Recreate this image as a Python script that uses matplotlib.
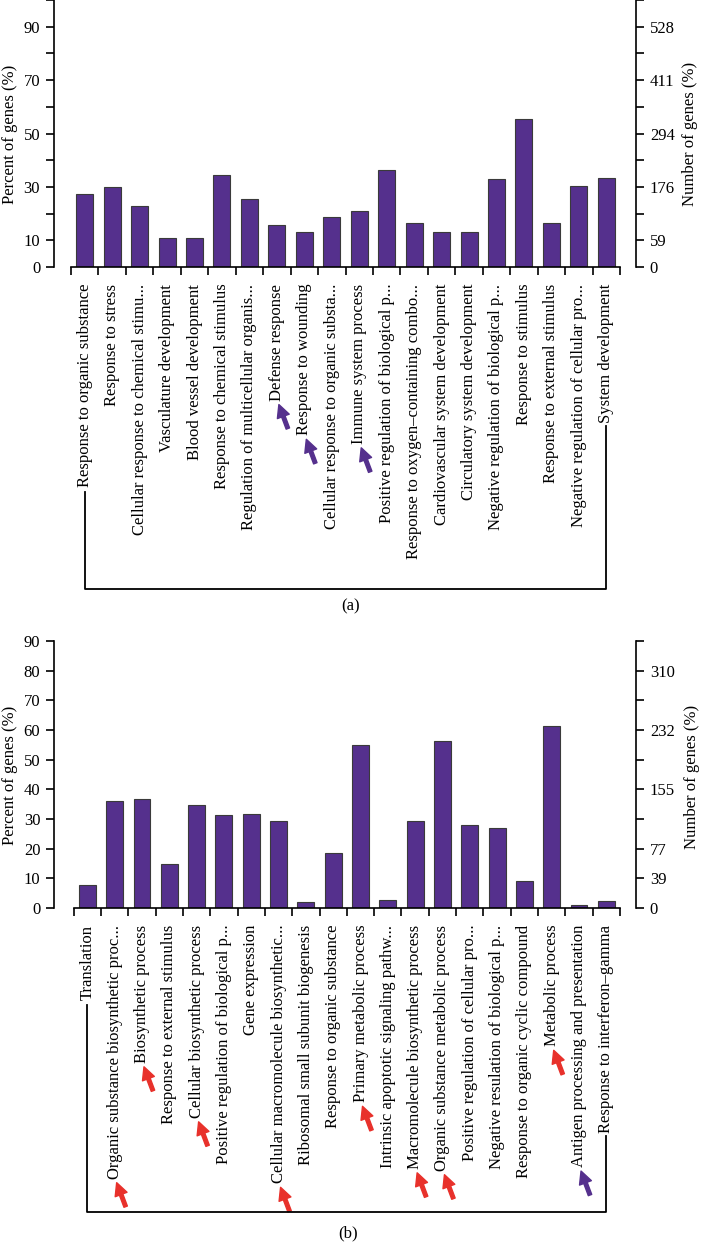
import numpy as np
import matplotlib
matplotlib.use("Agg")
import matplotlib.pyplot as plt
from matplotlib.lines import Line2D

plt.rcParams['font.family'] = ['Liberation Serif', 'DejaVu Serif']

# Panel (a)
terms_a = [
    "Response to organic substance", "Response to stress",
    "Cellular response to chemical stimu...", "Vasculature development",
    "Blood vessel development", "Response to chemical stimulus",
    "Regulation of multicellular organis...", "Defense response",
    "Response to wounding", "Cellular response to organic substa...",
    "Immune system process", "Positive regulation of biological p...",
    "Response to oxygen\u2013containing combo...", "Cardiovascular system development",
    "Circulatory system development", "Negative regulation of biological p...",
    "Response to stimulus", "Response to external stimulus",
    "Negative regulation of cellular pro...", "System development",
]
percent_a = [27.5, 30.0, 23.0, 11.0, 10.9, 34.4, 25.3, 15.7, 13.1, 18.7,
             20.9, 36.5, 16.3, 13.2, 13.2, 32.8, 55.4, 16.5, 30.3, 33.3]
left_labels_a = ["0", "10", "", "30", "", "50", "", "70", "", "90", ""]
right_labels_a = ["0", "59", "", "176", "", "294", "", "411", "", "528", ""]
arrows_a = {"Defense response": "purple", "Response to wounding": "purple",
            "Immune system process": "purple"}

# Panel (b)
terms_b = [
    "Translation", "Organic substance biosynthetic proc...", "Biosynthetic process",
    "Response to external stimulus", "Cellular biosynthetic process",
    "Positive regulation of biological p...", "Gene expression",
    "Cellular macromolecule biosynthetic...", "Ribosomal small subunit biogenesis",
    "Response to organic substance", "Primary metabolic process",
    "Intrinsic apoptotic signaling pathw...", "Macromolecule biosynthetic process",
    "Organic substance metabolic process", "Positive regulation of cellular pro...",
    "Negative resulation of biological p...", "Response to organic cyclic compound",
    "Metabolic process", "Antigen processing and presentation",
    "Response to interferon\u2013gamma",
]
percent_b = [7.6, 36.2, 36.6, 14.7, 34.8, 31.2, 31.7, 29.4, 1.9, 18.7,
             55.0, 2.8, 29.4, 56.3, 28.0, 27.0, 9.0, 61.4, 1.0, 2.2]
left_labels_b = ["0", "10", "20", "30", "40", "50", "60", "70", "80", "90"]
right_labels_b = ["0", "39", "77", "", "155", "", "232", "", "310", ""]
arrows_b = {
    "Organic substance biosynthetic proc...": "red", "Biosynthetic process": "red",
    "Cellular biosynthetic process": "red",
    "Cellular macromolecule biosynthetic...": "red",
    "Primary metabolic process": "red", "Macromolecule biosynthetic process": "red",
    "Organic substance metabolic process": "red", "Metabolic process": "red",
    "Antigen processing and presentation": "purple",
}

BAR = "#55308d"
COLORS = {"purple": "#55308d", "red": "#e8312b"}
FS = 12
W, H = 702, 1257

fig = plt.figure(figsize=(W / 100, H / 100), dpi=100)


def px_axes(x0, x1, y_top, y_bot):
    return fig.add_axes([x0 / W, 1 - y_bot / H, (x1 - x0) / W, (y_bot - y_top) / H])


def panel(ax, terms, values, ymax, left_labels, right_labels, left_off, right_off):
    n = len(terms)
    x = np.arange(n)
    ax.bar(x, values, width=0.62, color=BAR, edgecolor="#3a3a3a", linewidth=0.8)
    ax.set_xlim(-0.5, n - 0.5)
    ax.set_ylim(0, ymax)
    for s in ["top", "right"]:
        ax.spines[s].set_visible(False)
    ax.spines["left"].set_position(("outward", left_off))
    for s in ["left", "bottom"]:
        ax.spines[s].set_linewidth(1.2)
    yt = np.arange(0, ymax + 1, 10)
    ax.set_yticks(yt)
    ax.set_yticklabels(left_labels, fontsize=FS)
    ax.tick_params(axis="y", direction="out", length=6, width=1.2, pad=4)
    ax.set_xticks(x)
    ax.set_xticklabels(terms, rotation=90, ha="center", va="top", fontsize=FS)
    ax.set_xticks(np.arange(-0.5, n, 1), minor=True)
    ax.tick_params(axis="x", which="major", length=0, pad=12)
    ax.tick_params(axis="x", which="minor", length=6, width=1.2, direction="out")

    ax2 = ax.twinx()
    ax2.set_ylim(0, ymax)
    for s in ["top", "left", "bottom"]:
        ax2.spines[s].set_visible(False)
    ax2.spines["right"].set_position(("outward", right_off))
    ax2.spines["right"].set_linewidth(1.2)
    ax2.set_yticks(yt)
    ax2.set_yticklabels(right_labels, fontsize=FS)
    ax2.tick_params(axis="y", direction="out", length=6, width=1.2, pad=4)
    return ax2


ax_a = px_axes(71, 620, 0, 267)
panel(ax_a, terms_a, percent_a, 100, left_labels_a, right_labels_a, 12.2, 11.5)
ax_b = px_axes(73.7, 620, 641, 908)
panel(ax_b, terms_b, percent_b, 90, left_labels_b, right_labels_b, 14, 11.5)

fig.text(10 / W, 1 - 134 / H, "Percent of genes (%)", rotation=90,
         ha="center", va="center", fontsize=FS)
fig.text(690 / W, 1 - 134 / H, "Number of genes (%)", rotation=90,
         ha="center", va="center", fontsize=FS)
fig.text(10 / W, 1 - 775 / H, "Percent of genes (%)", rotation=90,
         ha="center", va="center", fontsize=FS)
fig.text(692 / W, 1 - 777 / H, "Number of genes (%)", rotation=90,
         ha="center", va="center", fontsize=FS)
fig.text(351 / W, 1 - 606 / H, "(a)", ha="center", va="center", fontsize=FS)
fig.text(348 / W, 1 - 1233 / H, "(b)", ha="center", va="center", fontsize=FS)

fig.canvas.draw()
renderer = fig.canvas.get_renderer()


def decorate(ax, arrows, y_bracket):
    labels = ax.get_xticklabels()
    first = labels[0].get_window_extent(renderer)
    last = labels[-1].get_window_extent(renderer)
    yb = H - y_bracket
    xf = (first.x0 + first.x1) / 2
    xl = (last.x0 + last.x1) / 2
    line = Line2D([xf, xf, xl, xl], [first.y0 - 5, yb, yb, last.y0 - 3],
                  color="black", linewidth=1.3, transform=None)
    fig.add_artist(line)
    for lab in labels:
        name = lab.get_text()
        if name in arrows:
            bb = lab.get_window_extent(renderer)
            hx = (bb.x0 + bb.x1) / 2 + 2
            hy = bb.y0 - 4
            ax.annotate("", xy=(hx, hy), xycoords="figure pixels",
                        xytext=(hx + 9, hy - 24), textcoords="figure pixels",
                        annotation_clip=False,
                        arrowprops=dict(arrowstyle="simple,head_length=0.7,head_width=0.7,tail_width=0.2",
                                        color=COLORS[arrows[name]], shrinkA=0, shrinkB=0,
                                        mutation_scale=13))


decorate(ax_a, arrows_a, 589)
decorate(ax_b, arrows_b, 1212)

fig.savefig("out.png", dpi=100)
